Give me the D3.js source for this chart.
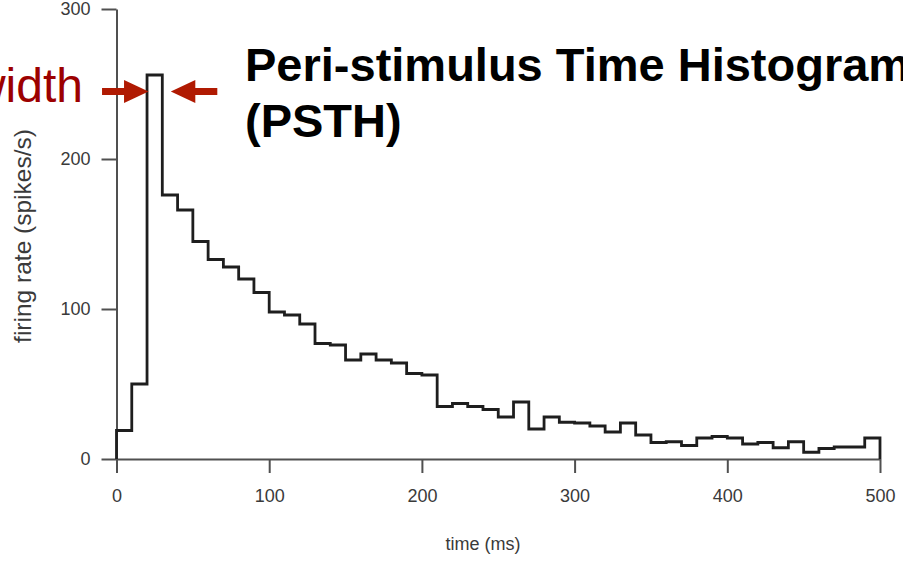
<!DOCTYPE html>
<html>
<head>
<meta charset="utf-8">
<script src="https://cdn.jsdelivr.net/npm/d3@7"></script>
<style>
  html, body { margin: 0; padding: 0; background: #fff; }
  svg { display: block; }
</style>
</head>
<body>
<svg id="chart" width="903" height="562"></svg>
<script>
// ---- data ----
const binWidth = 10; // ms
const binStarts = d3.range(0, 500, binWidth);
const firingRate = [19, 50, 256, 176, 166, 145, 133, 128, 120, 111,
                    98, 96, 90, 77, 76, 66, 70, 66, 64, 57,
                    56, 35, 37, 35, 33, 28, 38, 20, 28, 24.5,
                    24, 22, 18, 24, 16, 11, 11.5, 9, 14, 15,
                    14, 10, 11, 7.5, 11.5, 4.5, 7, 8, 8, 14];
const xTicks = [0, 100, 200, 300, 400, 500];
const yTicks = [0, 100, 200, 300];
const titleLines = ["Peri-stimulus Time Histogram", "(PSTH)"];
const xLabel = "time (ms)";
const yLabel = "firing rate (spikes/s)";
const annotation = "width";

const svg = d3.select("#chart");
const font = "Liberation Sans, Arial, Helvetica, sans-serif";

const x = d3.scaleLinear().domain([0, 500]).range([116.5, 880]);
const y = d3.scaleLinear().domain([0, 300]).range([459, 9]);

// axes
const axisColor = "#505050";
const gx = svg.append("g").attr("transform", `translate(0,${y(0)})`)
  .call(d3.axisBottom(x).tickValues(xTicks).tickSize(14).tickSizeOuter(0).tickPadding(16));
const gy = svg.append("g").attr("transform", `translate(${x(0)},0)`)
  .call(d3.axisLeft(y).tickValues(yTicks).tickSize(15).tickSizeOuter(0).tickPadding(11));
[gx, gy].forEach(g => {
  g.select(".domain").attr("stroke", axisColor).attr("stroke-width", 2);
  g.selectAll(".tick line").attr("stroke", axisColor).attr("stroke-width", 2);
  g.selectAll(".tick text").attr("fill", "#3a3a3a")
    .attr("font-family", font).attr("font-size", 18);
});

// histogram outline
const pts = [[0, 0]];
binStarts.forEach((t, i) => pts.push([t, firingRate[i]]));
pts.push([500, firingRate[firingRate.length - 1]]);
pts.push([500, 0]);
const line = d3.line().x(d => x(d[0])).y(d => y(d[1])).curve(d3.curveStepAfter);
svg.append("path").datum(pts)
  .attr("d", line)
  .attr("fill", "none")
  .attr("stroke", "#1e1e1e")
  .attr("stroke-width", 2.8)
  .attr("stroke-linejoin", "miter");

// axis labels
svg.append("text").text(xLabel)
  .attr("x", 483).attr("y", 550)
  .attr("text-anchor", "middle")
  .attr("font-family", font).attr("font-size", 18).attr("fill", "#3a3a3a");
svg.append("text").text(yLabel)
  .attr("transform", "translate(31,236) rotate(-90)")
  .attr("text-anchor", "middle")
  .attr("font-family", font).attr("font-size", 24.5).attr("fill", "#3a3a3a");

// title
svg.append("g").selectAll("text").data(titleLines).join("text")
  .text(d => d)
  .attr("x", 245).attr("y", (d, i) => 81 + i * 56)
  .attr("font-family", font).attr("font-weight", "bold")
  .attr("font-size", 47).attr("fill", "#000");

// "width" annotation with arrows pointing at the peak bin edges
svg.append("text").text(annotation)
  .attr("x", 83).attr("y", 102)
  .attr("text-anchor", "end")
  .attr("font-family", font).attr("font-size", 48).attr("fill", "#9c0000");

const ay = y(245);
const leftTip = x(20) + 1.5, rightTip = x(30) + 8.5;
const arrowColor = "#b01a02";
function arrow(tip, dir) {
  // dir = +1 points right, -1 points left
  const headLen = 24.5, headHalf = 11.5, shaftHalf = 3.6, shaftLen = 22;
  const b = tip - dir * headLen;
  const e = b - dir * shaftLen;
  return `M${tip},${ay} L${b},${ay - headHalf} L${b},${ay - shaftHalf} L${e},${ay - shaftHalf}` +
         ` L${e},${ay + shaftHalf} L${b},${ay + shaftHalf} L${b},${ay + headHalf} Z`;
}
svg.append("path").attr("d", arrow(leftTip, 1)).attr("fill", arrowColor);
svg.append("path").attr("d", arrow(rightTip, -1)).attr("fill", arrowColor);
</script>
</body>
</html>
